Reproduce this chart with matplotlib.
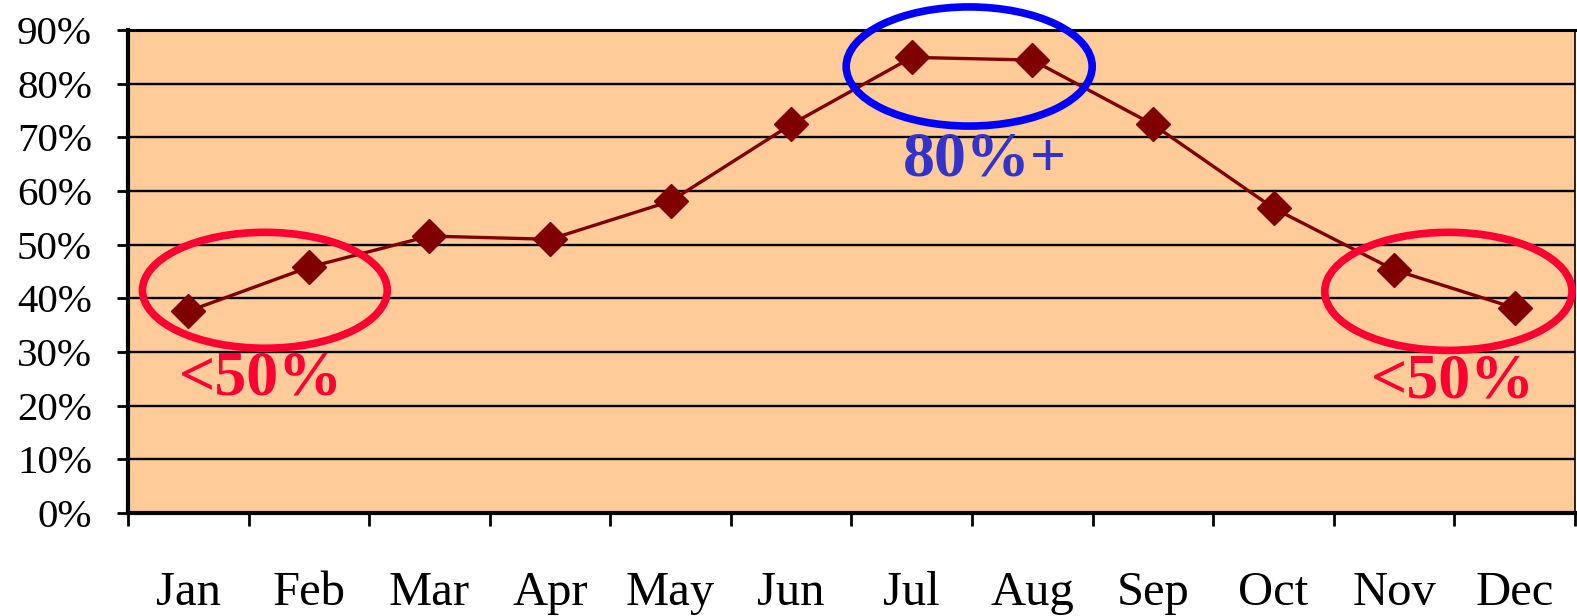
import matplotlib.pyplot as plt
from matplotlib.patches import Ellipse
from matplotlib.ticker import FixedLocator, PercentFormatter

months = ['Jan', 'Feb', 'Mar', 'Apr', 'May', 'Jun',
          'Jul', 'Aug', 'Sep', 'Oct', 'Nov', 'Dec']
occupancy = [37.6, 45.8, 51.6, 51.0, 58.1, 72.4,
             84.9, 84.4, 72.4, 56.8, 45.3, 38.2]
yticks = [0, 10, 20, 30, 40, 50, 60, 70, 80, 90]

# highlighted regions: (center x, center y, width, height, colour, label, label x, label y, label colour)
callouts = [
    (0.635, 41.5, 2.03, 21.6, '#ff0033', '<50%', 0.60, 24.8, '#ff0033'),
    (6.476, 83.2, 2.04, 22.2, '#0000ff', '80%+', 6.61, 65.7, '#3333cc'),
    (10.45, 41.3, 2.05, 22.0, '#ff0033', '<50%', 10.49, 24.4, '#ff0033'),
]

plt.rcParams['font.family'] = ['Liberation Serif', 'DejaVu Serif']

fig = plt.figure(figsize=(15.77, 6.16), dpi=100)
ax = fig.add_axes([128 / 1577, 1 - 513 / 616, 1447 / 1577, 483 / 616])
ax.set_facecolor('#ffcc99')

x = list(range(len(months)))
ax.plot(x, occupancy, color='#800000', lw=2.4, marker='D', ms=17,
        markeredgecolor='#800000', zorder=3)

ax.set_xlim(-0.5, len(months) - 0.5)
ax.set_ylim(0, 90)
ax.set_yticks(yticks)
ax.yaxis.set_major_formatter(PercentFormatter(decimals=0))
ax.set_xticks(x)
ax.set_xticklabels(months)
ax.xaxis.set_major_locator(FixedLocator(x))
ax.set_xticks([i - 0.5 for i in range(len(months) + 1)], minor=True)

ax.tick_params(axis='y', direction='out', length=8, width=2, pad=18, labelsize=29.5)
ax.tick_params(axis='x', which='major', length=0, pad=42, labelsize=35)
ax.tick_params(axis='x', which='minor', direction='out', length=9, width=2)

ax.grid(axis='y', color='black', lw=1.7)
ax.set_axisbelow(True)
for side in ['left', 'bottom']:
    ax.spines[side].set_linewidth(3)
ax.spines['top'].set_linewidth(2.2)
ax.spines['right'].set_linewidth(1.2)

for cx, cy, w, h, ec, label, tx, ty, tc in callouts:
    ax.add_patch(Ellipse((cx, cy), w, h, fill=False, ec=ec, lw=5.5,
                         clip_on=False, zorder=4))
    ax.text(tx, ty, label, color=tc, fontsize=46, fontweight='bold',
            ha='center', va='center', zorder=5)

fig.savefig('out.png', dpi=100)
